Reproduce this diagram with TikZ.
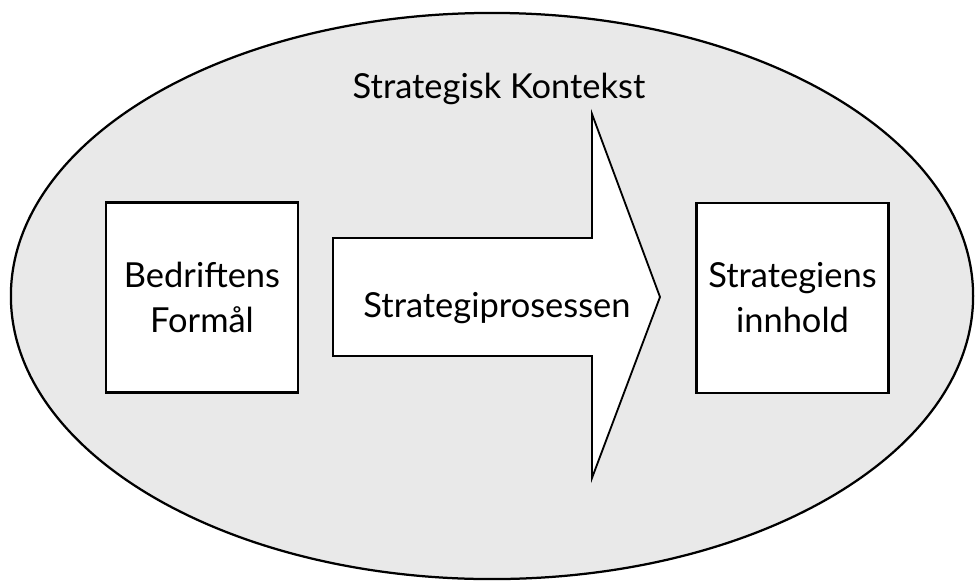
\documentclass[tikz,border=0pt]{standalone}
\usepackage{fontspec}
\setmainfont{Lato}
\usepackage{tikz}
\usetikzlibrary{shapes.geometric, positioning}

\begin{document}
\begin{tikzpicture}[x=0.025cm, y=-0.025cm,
        base/.style={draw, line width=1.6pt, align=center, font=\fontsize{24.5}{32}\selectfont},
        boks/.style={base, rectangle, fill=white, minimum width=4.8cm, minimum height=4.75cm, inner sep=0pt},
        kontekst/.style={draw, ellipse, line width=1.6pt, fill=gray!17, minimum width=24.05cm, minimum height=14.15cm, inner sep=0pt},
        pil/.style={draw, line width=1.3pt, fill=white, line join=miter},
        tekst/.style={font=\fontsize{24.5}{32}\selectfont, inner sep=0pt}
    ]
    \useasboundingbox (0,0) rectangle (976,581);

    % Background ellipse
    \node[kontekst] (kontekst) at (492,296) {};
    \node[tekst, anchor=base] (kontekstlabel) at (499,98) {Strategisk Kontekst};

    % Boxes
    \node[boks] (formaal) at (202,297.5) {Bedriftens\\Formål};
    \node[boks] (innhold) at (792.5,298) {Strategiens\\innhold};

    % Process arrow
    \path[pil] (333,238) -- (592,238) -- (592,114) -- (660,297)
        -- (592,478) -- (592,356) -- (333,356) -- cycle;
    \node[tekst, anchor=base] (prosess) at (497,317) {Strategiprosessen};
\end{tikzpicture}
\end{document}
